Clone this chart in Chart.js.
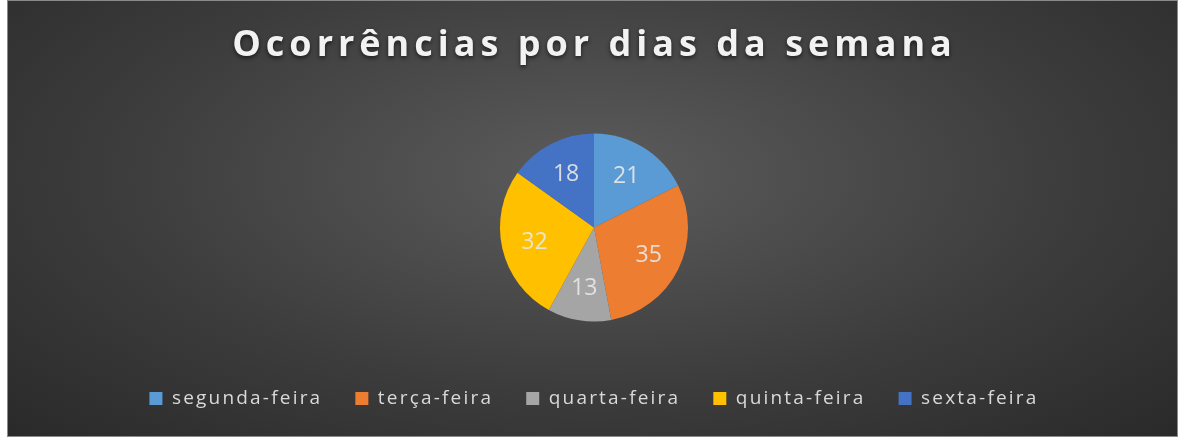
<!DOCTYPE html>
<html>
<head>
<meta charset="utf-8">
<script src="https://cdn.jsdelivr.net/npm/chart.js@4.4.0/dist/chart.umd.min.js"></script>
<style>
  body { margin: 0; background: #fff; }
  #wrapper {
    position: absolute; left: 7px; top: 0; width: 1169px; height: 435px;
    border: 1px solid #8a8a8a;
    background: radial-gradient(ellipse 75% 90% at 50% 40%, #5c5c5c 0%, #3c3c3c 55%, #272727 100%);
  }
  canvas { display: block; }
</style>
</head>
<body>
<div id="wrapper"><canvas id="pieChart" width="1169" height="435"></canvas></div>
<script>
var chartTitle = 'Ocorrências por dias da semana';
var days = ['segunda-feira', 'terça-feira', 'quarta-feira', 'quinta-feira', 'sexta-feira'];
var occurrences = [21, 35, 13, 32, 18];
var sliceColors = ['#5b9bd5', '#ed7d31', '#a5a5a5', '#ffc000', '#4472c4'];

// wider legend text, like the stretched original
var spacingPlugin = {
    id: 'legendSpacing',
    beforeUpdate: function(chart) { chart.ctx.letterSpacing = '2.2px'; },
    beforeDraw: function(chart) { chart.ctx.letterSpacing = '2.2px'; }
};

// title drawn by hand so it can have letter spacing + shadow
var titlePlugin = {
    id: 'spacedTitle',
    afterDraw: function(chart) {
        var c = chart.ctx;
        c.save();
        c.font = 'bold 36px "Open Sans"';
        c.letterSpacing = '5px';
        c.textAlign = 'center';
        c.textBaseline = 'middle';
        c.fillStyle = '#f2f2f2';
        c.shadowColor = 'rgba(0,0,0,0.6)';
        c.shadowBlur = 4;
        c.shadowOffsetY = 2;
        c.fillText(chartTitle, chart.width / 2 + 2, 45);
        c.restore();
    }
};

var labelPlugin = {
    id: 'sliceLabels',
    afterDatasetsDraw: function(chart) {
        var c = chart.ctx;
        var meta = chart.getDatasetMeta(0);
        c.save();
        c.letterSpacing = '0px';
        c.font = '23px "Open Sans"';
        c.fillStyle = 'rgba(232,232,232,0.9)';
        c.textAlign = 'center';
        c.textBaseline = 'middle';
        meta.data.forEach(function(arc, i) {
            var p = arc.getProps(['x', 'y', 'startAngle', 'endAngle', 'outerRadius']);
            var mid = (p.startAngle + p.endAngle) / 2;
            var r = p.outerRadius * 0.65;
            c.fillText(occurrences[i], p.x + Math.cos(mid) * r, p.y + Math.sin(mid) * r + 1);
        });
        c.restore();
    }
};

var ctx = document.getElementById('pieChart').getContext('2d');
var pie_chart = new Chart(ctx, {
    type: 'pie',
    data: {
        labels: days,
        datasets: [{
            data: occurrences,
            backgroundColor: sliceColors,
            borderWidth: 0,
            radius: 94
        }]
    },
    options: {
        responsive: false,
        animation: false,
        layout: { padding: { top: 98, bottom: 18, left: 3, right: 0 } },
        plugins: {
            tooltip: { enabled: false },
            title: { display: false },
            legend: {
                position: 'bottom',
                labels: {
                    color: '#d9d9d9',
                    font: { family: '"Open Sans"', size: 19 },
                    boxWidth: 13,
                    boxHeight: 13,
                    padding: 33
                }
            }
        }
    },
    plugins: [spacingPlugin, titlePlugin, labelPlugin]
});
</script>
</body>
</html>
